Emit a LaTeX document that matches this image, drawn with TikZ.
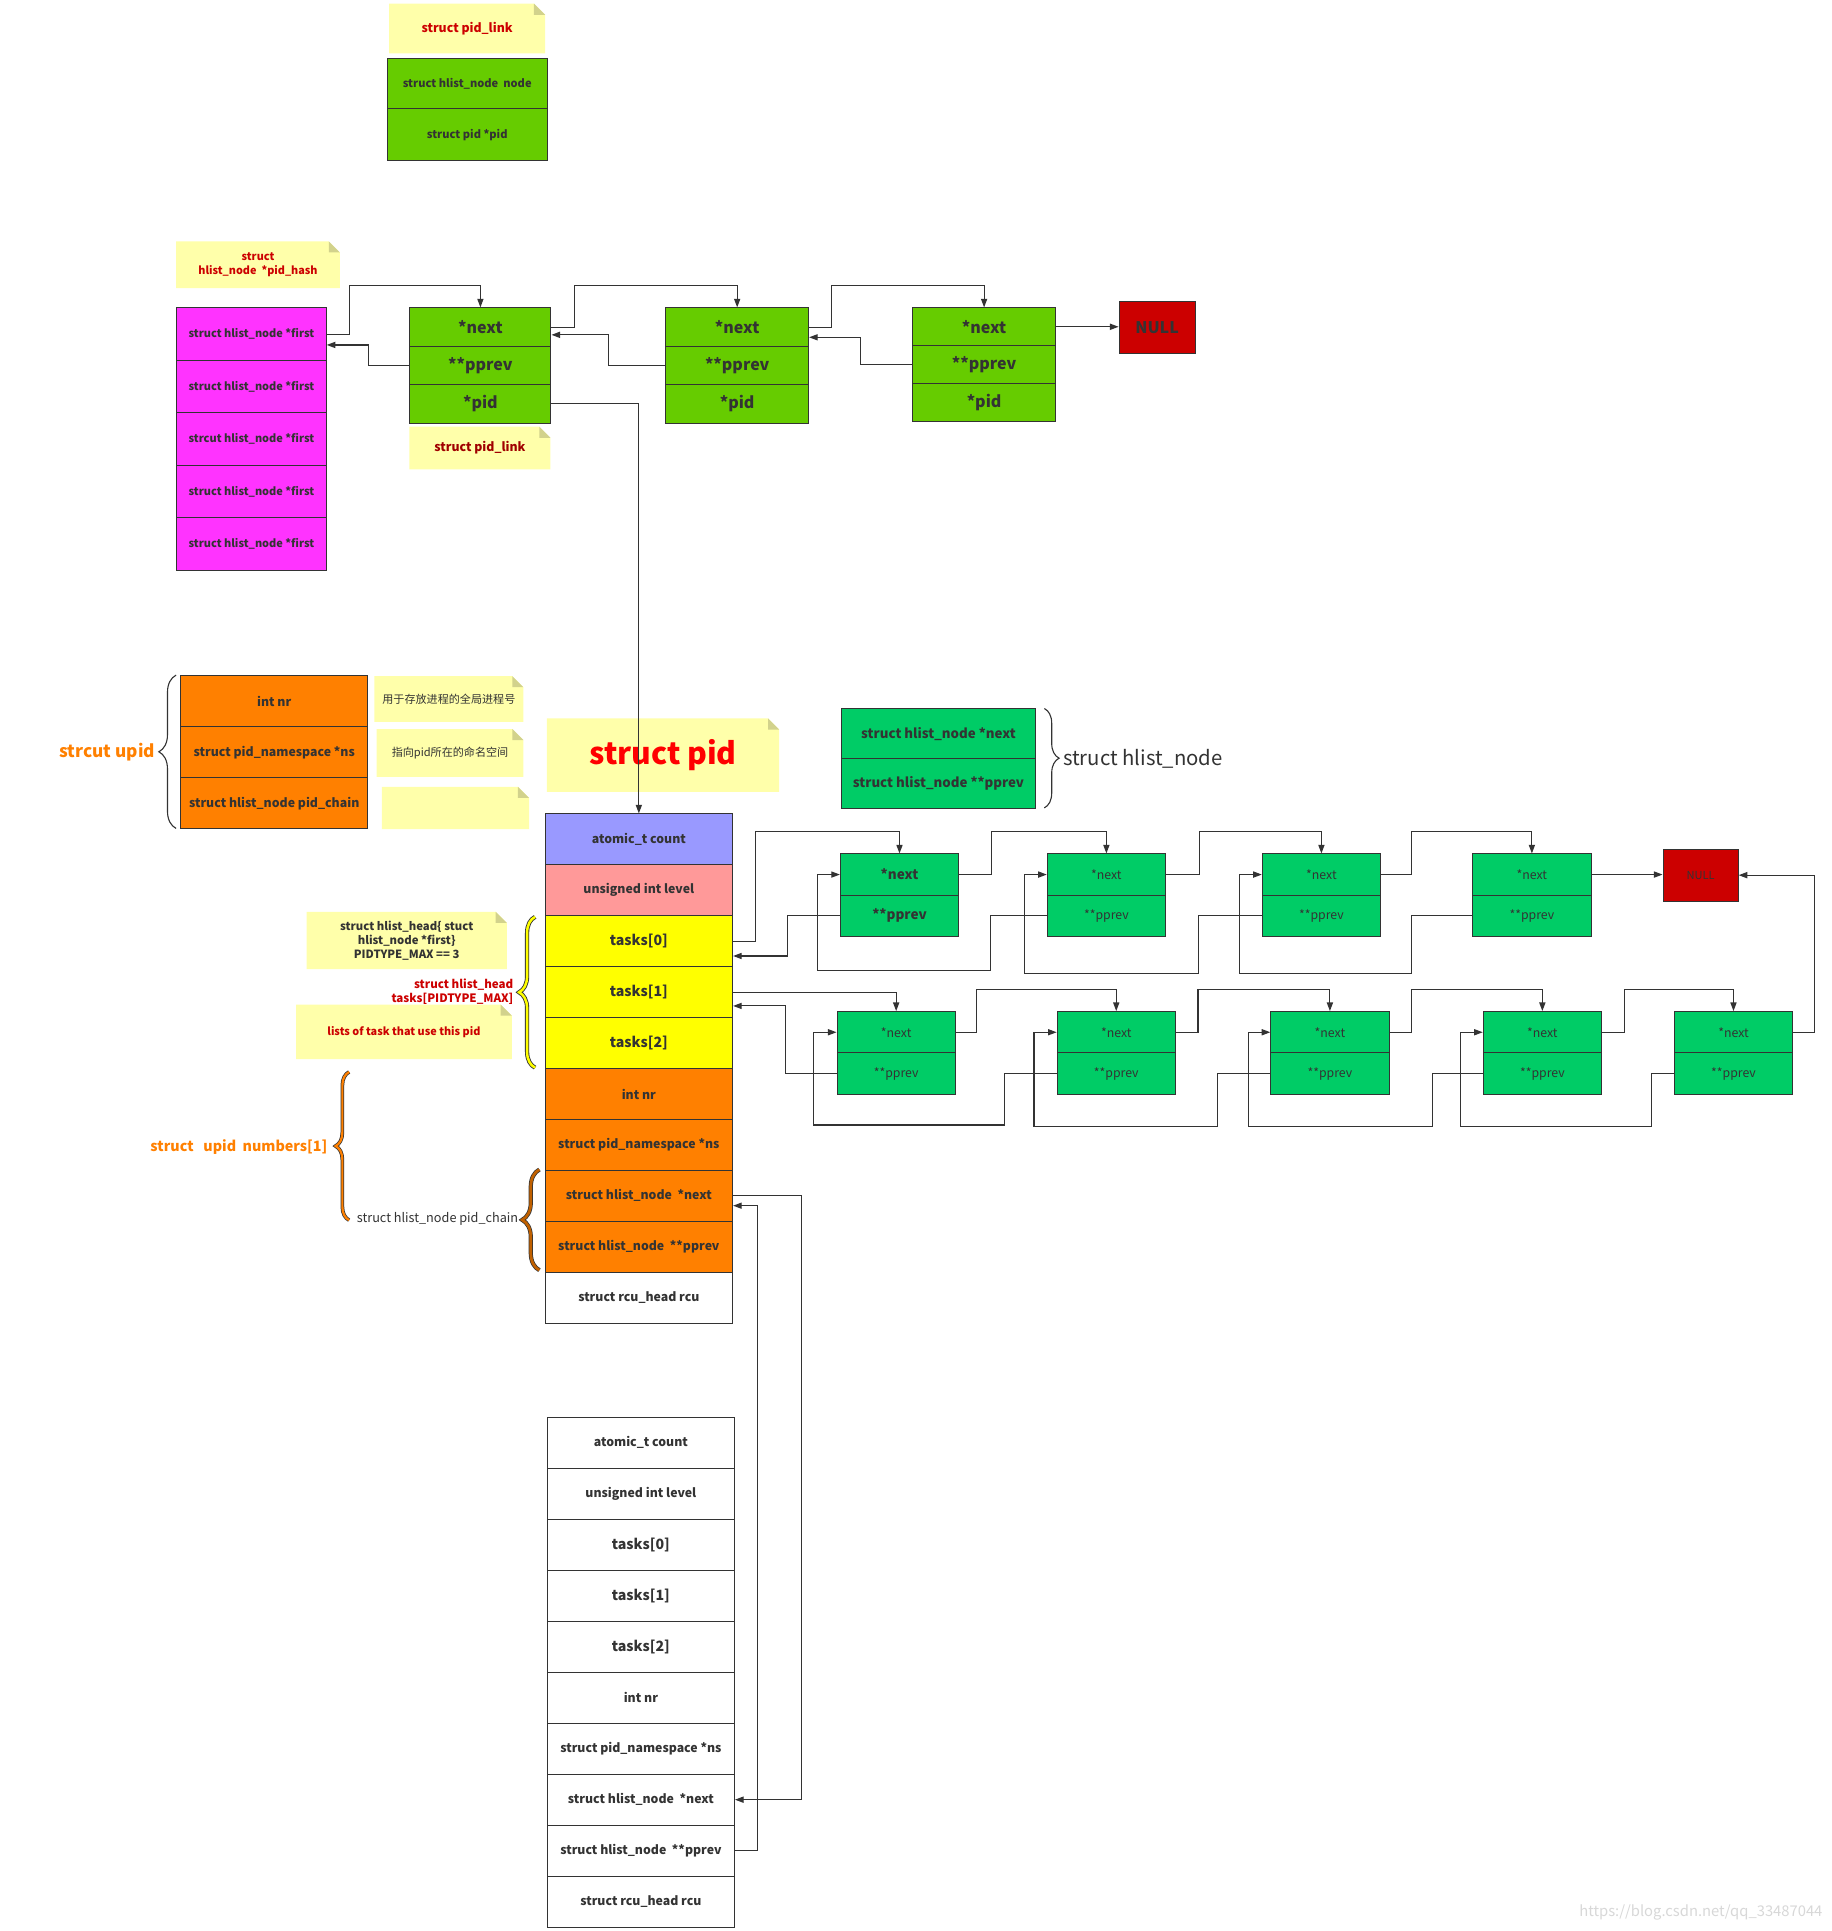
\documentclass[tikz,border=0pt]{standalone}
\usepackage{fontspec}
\setmainfont{Noto Sans CJK SC}
\usetikzlibrary{arrows.meta,decorations.pathreplacing}
\definecolor{dk}{HTML}{333333}
\definecolor{lg}{HTML}{66CC00}
\definecolor{hg}{HTML}{00CC66}
\definecolor{mg}{HTML}{FF33FF}
\definecolor{og}{HTML}{FF8000}
\definecolor{rd}{HTML}{CC0000}
\definecolor{drd}{HTML}{A00000}
\definecolor{brd}{HTML}{FF0000}
\definecolor{bl}{HTML}{9999FF}
\definecolor{pk}{HTML}{FF9999}
\definecolor{yl}{HTML}{FFFF00}
\definecolor{nt}{HTML}{FFFFAA}
\definecolor{nf}{HTML}{D2D28C}
\definecolor{brn}{HTML}{C06000}
\definecolor{wm}{HTML}{D8D8D8}
\newcommand{\fsz}[2]{\fontsize{#1}{#2}\selectfont}
\newcommand{\stickynote}[5]{%
  \fill[nt] (#2,#3) -- ({#4-9},#3) -- (#4,{#3+9}) -- (#4,#5) -- (#2,#5) -- cycle;
  \fill[nf] ({#4-9},#3) -- (#4,{#3+9}) -- ({#4-9},{#3+9}) -- cycle;
  \coordinate (#1) at ({(#2+#4)/2},{(#3+#5)/2});}
\tikzset{
  cell/.style={draw=dk, line width=0.8pt, anchor=north west, inner sep=0pt, text=dk, align=center},
  ntxt/.style={inner sep=0pt, align=center},
  arr/.style={draw=dk, line width=0.9pt, -{Triangle[length=7pt,width=5pt]}},
  pl/.style={cell, fill=lg, minimum width=#1, minimum height=31.2pt, font=\bfseries\fsz{13}{15}},
  mgc/.style={cell, fill=mg, minimum width=121.5pt, minimum height=42.6pt, font=\bfseries\fsz{8.9}{11}},
  pidc/.style={cell, minimum width=152.3pt, minimum height=41.35pt, font=\bfseries\fsz{10}{12}},
  pid2/.style={cell, fill=white, minimum width=152pt, minimum height=41.42pt, font=\bfseries\fsz{10}{12}},
  hgc/.style={cell, fill=hg, minimum width=96pt, minimum height=33.5pt, font=\fsz{10}{12}},
  hgb/.style={cell, fill=hg, minimum width=96pt, minimum height=33.6pt, font=\fsz{10}{12}},
  brc/.style={decorate, decoration={brace, amplitude=#1}},
}
\begin{document}
\begin{tikzpicture}[x=1pt, y=-1pt]
\useasboundingbox (0,0) rectangle (1487,1568);
\fill[white] (0,0) rectangle (1487,1568);

% ---------- top struct pid_link legend ----------
\stickynote{ntop}{316}{3}{442.6}{43.3}
\node[ntxt, text=rd, font=\bfseries\fsz{10}{12}] (ntopt) at (ntop) {struct pid\_link};
\node[cell, fill=lg, minimum width=130pt, minimum height=40.6pt, font=\bfseries\fsz{9}{11}] (tnode) at (314,47.4) {struct hlist\_node\ \ node};
\node[cell, fill=lg, minimum width=130pt, minimum height=42pt, font=\bfseries\fsz{9}{11}] (tpid) at (314,88) {struct pid *pid};

% ---------- pid_hash ----------
\stickynote{nhash}{143}{196}{276}{234}
\node[ntxt, text=rd, font=\bfseries\fsz{8.8}{11.5}] (nhasht) at (nhash) {struct\\hlist\_node\ \ *pid\_hash};
\node[mgc] (m1) at (143,249.6) {struct hlist\_node *first};
\node[mgc] (m2) at (143,292.2) {struct hlist\_node *first};
\node[mgc] (m3) at (143,334.8) {strcut hlist\_node *first};
\node[mgc] (m4) at (143,377.4) {struct hlist\_node *first};
\node[mgc] (m5) at (143,420) {struct hlist\_node *first};

% ---------- pid_link chain ----------
\node[pl=114.6pt] (g1n) at (332.4,249.6) {*next};
\node[pl=114.6pt] (g1p) at (332.4,280.8) {**pprev};
\node[pl=114.6pt] (g1d) at (332.4,312) {*pid};
\node[pl=116pt] (g2n) at (540.2,249.6) {*next};
\node[pl=116pt] (g2p) at (540.2,280.8) {**pprev};
\node[pl=116pt] (g2d) at (540.2,312) {*pid};
\node[pl=116pt, minimum height=30.7pt] (g3n) at (740.7,249.6) {*next};
\node[pl=116pt, minimum height=30.7pt] (g3p) at (740.7,280.3) {**pprev};
\node[pl=116pt, minimum height=30.7pt] (g3d) at (740.7,311) {*pid};
\node[cell, fill=rd, minimum width=61.7pt, minimum height=42.8pt, font=\bfseries\fsz{13}{15}] (null1) at (908.3,244.2) {NULL};
\stickynote{nlink}{332.4}{346.5}{447}{381.2}
\node[ntxt, text=drd, font=\bfseries\fsz{10}{12}] (nlinkt) at (nlink) {struct pid\_link};

% ---------- struct upid ----------
\node[cell, fill=og, minimum width=152.1pt, minimum height=41.4pt, font=\bfseries\fsz{10}{12}] (u1) at (146.2,548.2) {int nr};
\node[cell, fill=og, minimum width=152.1pt, minimum height=41.7pt, font=\bfseries\fsz{10}{12}] (u2) at (146.2,589.6) {struct pid\_namespace *ns};
\node[cell, fill=og, minimum width=152.1pt, minimum height=41.4pt, font=\bfseries\fsz{10}{12}] (u3) at (146.2,631.3) {struct hlist\_node pid\_chain};
\draw[brc=14pt, dk, line width=0.9pt] (143,672.7) -- (143,548.2);
\node[anchor=east, inner sep=0pt, text=og, font=\bfseries\fsz{14}{17}] (lupid) at (126,610.5) {strcut upid};
\stickynote{nnr}{304}{549}{425}{586.1}
\node[ntxt, text=dk, font=\fsz{9}{11}] (nnrt) at (nnr) {用于存放进程的全局进程号};
\stickynote{nns}{305.9}{592}{425}{630.8}
\node[ntxt, text=dk, font=\fsz{9}{11}] (nnst) at (nns) {指向pid所在的命名空间};
\stickynote{nemp}{310}{638.9}{429.6}{673.3}

% ---------- struct pid ----------
\stickynote{npid}{444}{583.4}{632.7}{643}
\node[ntxt, text=brd, font=\bfseries\fsz{24.5}{28}] (npidt) at (npid) {struct pid};
\node[pidc, fill=bl] (pc) at (442.2,660.5) {atomic\_t count};
\node[pidc, fill=pk] (pl) at (442.2,701.85) {unsigned int level};
\node[pidc, fill=yl, font=\bfseries\fsz{11.5}{13}] (t0) at (442.2,743.2) {tasks[0]};
\node[pidc, fill=yl, font=\bfseries\fsz{11.5}{13}] (t1) at (442.2,784.55) {tasks[1]};
\node[pidc, fill=yl, font=\bfseries\fsz{11.5}{13}] (t2) at (442.2,825.9) {tasks[2]};
\node[pidc, fill=og] (pnr) at (442.2,867.25) {int nr};
\node[pidc, fill=og] (pns) at (442.2,908.6) {struct pid\_namespace *ns};
\node[pidc, fill=og] (pnext) at (442.2,949.95) {struct hlist\_node\ \ *next};
\node[pidc, fill=og] (pprev) at (442.2,991.3) {struct hlist\_node\ \ **pprev};
\node[pidc, fill=white] (prcu) at (442.2,1032.65) {struct rcu\_head rcu};

% ---------- annotations left of struct pid ----------
\stickynote{nhead}{249}{740.4}{411.5}{787}
\node[ntxt, text=dk, font=\bfseries\fsz{9.2}{11.3}] (nheadt) at (nhead) {struct hlist\_head\{ stuct\\hlist\_node *first\}\\PIDTYPE\_MAX\ ==\ 3};
\draw[brc=13pt, dk, line width=3.4pt] (434.5,867) -- (434.5,744.5);
\draw[brc=13pt, yl, line width=2pt] (434.5,867) -- (434.5,744.5);
\node[anchor=east, inner sep=0pt, align=right, text=rd, font=\bfseries\fsz{9.4}{11.3}] (ltasks) at (417,805.5) {struct hlist\_head\\tasks[PIDTYPE\_MAX]};
\stickynote{nlist}{240.4}{815.7}{415.6}{860.1}
\node[ntxt, text=rd, font=\bfseries\fsz{8.8}{11}] (nlistt) at (nlist) {lists of task that use this pid};
\draw[brc=11pt, dk, line width=3pt] (283.5,990.8) -- (283.5,870.4);
\draw[brc=11pt, og, line width=1.8pt] (283.5,990.8) -- (283.5,870.4);
\node[anchor=east, inner sep=0pt, text=og, font=\bfseries\fsz{11.6}{14}] (lnum) at (266,931.8) {struct\ \ \ upid\ \ numbers[1]};
\draw[brc=14pt, dk, line width=3.4pt] (438,1031.4) -- (438,949.7);
\draw[brc=14pt, brn, line width=2.2pt] (438,1031.4) -- (438,949.7);
\node[anchor=east, inner sep=0pt, text=dk, font=\fsz{10.3}{12}] (lchain) at (421,989.5) {struct hlist\_node pid\_chain};

% ---------- hlist_node legend ----------
\node[cell, fill=hg, minimum width=157.3pt, minimum height=40.6pt, font=\bfseries\fsz{10.8}{13}] (hl1) at (683,575.3) {struct hlist\_node *next};
\node[cell, fill=hg, minimum width=157.3pt, minimum height=40.1pt, font=\bfseries\fsz{10.8}{13}] (hl2) at (683,615.9) {struct hlist\_node **pprev};
\draw[brc=12pt, dk, line width=0.9pt] (848,575.3) -- (848,656);
\node[anchor=west, inner sep=0pt, text=dk, font=\fsz{16.5}{19}] (lhl) at (863,616) {struct hlist\_node};

% ---------- row A (tasks[0]) ----------
\node[hgc, font=\bfseries\fsz{11}{13}] (a1n) at (682,693) {*next};
\node[hgc, font=\bfseries\fsz{11}{13}] (a1p) at (682,726.5) {**pprev};
\node[hgc] (a2n) at (850,693) {*next};
\node[hgc] (a2p) at (850,726.5) {**pprev};
\node[hgc] (a3n) at (1024.6,693) {*next};
\node[hgc] (a3p) at (1024.6,726.5) {**pprev};
\node[hgc] (a4n) at (1195.5,693) {*next};
\node[hgc] (a4p) at (1195.5,726.5) {**pprev};
\node[cell, fill=rd, minimum width=61pt, minimum height=42.5pt, font=\fsz{9}{11}] (null2) at (1350,689) {NULL};

% ---------- row B (tasks[1]) ----------
\node[hgb] (b1n) at (679.3,821) {*next};
\node[hgb] (b1p) at (679.3,854.6) {**pprev};
\node[hgb] (b2n) at (858,821) {*next};
\node[hgb] (b2p) at (858,854.6) {**pprev};
\node[hgb] (b3n) at (1031.5,821) {*next};
\node[hgb] (b3p) at (1031.5,854.6) {**pprev};
\node[hgb] (b4n) at (1204,821) {*next};
\node[hgb] (b4p) at (1204,854.6) {**pprev};
\node[hgb] (b5n) at (1359.2,821) {*next};
\node[hgb] (b5p) at (1359.2,854.6) {**pprev};

% ---------- second struct pid ----------
\node[pid2] (q1) at (444,1150.3) {atomic\_t count};
\node[pid2] (q2) at (444,1191.72) {unsigned int level};
\node[pid2, font=\bfseries\fsz{11.5}{13}] (q3) at (444,1233.14) {tasks[0]};
\node[pid2, font=\bfseries\fsz{11.5}{13}] (q4) at (444,1274.56) {tasks[1]};
\node[pid2, font=\bfseries\fsz{11.5}{13}] (q5) at (444,1315.98) {tasks[2]};
\node[pid2] (q6) at (444,1357.4) {int nr};
\node[pid2] (q7) at (444,1398.82) {struct pid\_namespace *ns};
\node[pid2] (q8) at (444,1440.24) {struct hlist\_node\ \ *next};
\node[pid2] (q9) at (444,1481.66) {struct hlist\_node\ \ **pprev};
\node[pid2] (q10) at (444,1523.08) {struct rcu\_head rcu};

% ---------- connectors: pid_hash chain ----------
\draw[arr] (m1.east) -- ++(18.6,0) |- ([yshift=18.1pt]g1n.north) -- (g1n.north);
\draw[arr] (g1p.west) -| ([xshift=33.8pt,yshift=-8.8pt]m1.east) -- ([yshift=-8.8pt]m1.east);
\draw[arr] (g1n.east) -- ++(18.6,0) |- ([yshift=18.1pt]g2n.north) -- (g2n.north);
\draw[arr] (g2p.west) -| ([xshift=46.3pt,yshift=-6.3pt]g1n.east) -- ([yshift=-6.3pt]g1n.east);
\draw[arr] (g2n.east) -- ++(18.5,0) |- ([yshift=18.1pt]g3n.north) -- (g3n.north);
\draw[arr] (g3p.west) -| ([xshift=41.6pt,yshift=-8.3pt]g2n.east) -- ([yshift=-8.3pt]g2n.east);
\draw[arr] (g3n.east) -- (g3n.east -| null1.west);
\draw[arr] (g1d.east) -| (pc.north);

% ---------- connectors: row A ----------
\draw[arr] (t0.east) -- ++(18,0) |- ([yshift=17.5pt]a1n.north) -- (a1n.north);
\draw[arr] (a1p.west) -| ([xshift=44.5pt,yshift=-12pt]t0.east) -- ([yshift=-12pt]t0.east);
\draw[arr] (a1n.east) -- ++(26,0) |- ([yshift=17.5pt]a2n.north) -- (a2n.north);
\draw[arr] (a2p.west) -- ++(-46,0) |- ([xshift=-18.2pt,yshift=-78pt]a1n.west) |- (a1n.west);
\draw[arr] (a2n.east) -- ++(27,0) |- ([yshift=17.5pt]a3n.north) -- (a3n.north);
\draw[arr] (a3p.west) -- ++(-51.6,0) |- ([xshift=-18pt,yshift=-80.3pt]a2n.west) |- (a2n.west);
\draw[arr] (a3n.east) -- ++(25,0) |- ([yshift=17.5pt]a4n.north) -- (a4n.north);
\draw[arr] (a4p.west) -- ++(-49,0) |- ([xshift=-18pt,yshift=-80.3pt]a3n.west) |- (a3n.west);
\draw[arr] (a4n.east) -- (a4n.east -| null2.west);

% ---------- connectors: row B ----------
\draw[arr] (t1.east) -| (b1n.north);
\draw[arr] (b1p.west) -| ([xshift=42.5pt,yshift=-11.2pt]t1.east) -- ([yshift=-11.2pt]t1.east);
\draw[arr] (b1n.east) -- ++(17,0) |- ([yshift=17.7pt]b2n.north) -- (b2n.north);
\draw[arr] (b2p.west) -- ++(-42,0) |- ([xshift=-19pt,yshift=-75.3pt]b1n.west) |- (b1n.west);
\draw[arr] (b2n.east) -- ++(18,0) |- ([yshift=17.7pt]b3n.north) -- (b3n.north);
\draw[arr] (b3p.west) -- ++(-43,0) |- ([xshift=-18.4pt,yshift=-76.4pt]b2n.west) |- (b2n.west);
\draw[arr] (b3n.east) -- ++(18,0) |- ([yshift=17.7pt]b4n.north) -- (b4n.north);
\draw[arr] (b4p.west) -- ++(-40.7,0) |- ([xshift=-17.8pt,yshift=-76.4pt]b3n.west) |- (b3n.west);
\draw[arr] (b4n.east) -- ++(18,0) |- ([yshift=17.7pt]b5n.north) -- (b5n.north);
\draw[arr] (b5p.west) -- ++(-18.4,0) |- ([xshift=-18pt,yshift=-76.4pt]b4n.west) |- (b4n.west);
\draw[arr] (b5n.east) -- ++(17.3,0) |- (null2.east);

% ---------- connectors: pid_chain ----------
\draw[arr] (pnext.east) -- ++(55.5,0) |- (q8.east);
\draw[arr] (q9.east) -- ++(18.5,0) |- ([yshift=-8pt]pnext.east);

% ---------- watermark ----------
\node[anchor=east, inner sep=0pt, text=wm, font=\fsz{12}{14}] (wmark) at (1480,1553) {https://blog.csdn.net/qq\_33487044};
\end{tikzpicture}
\end{document}
